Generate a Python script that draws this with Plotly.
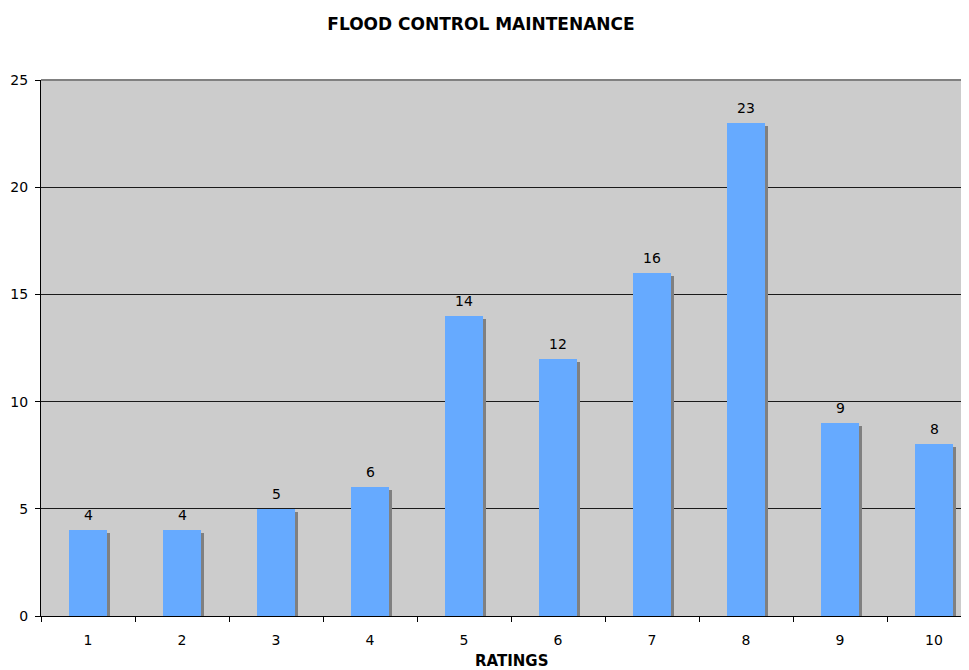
import plotly.graph_objects as go

ratings = ["1", "2", "3", "4", "5", "6", "7", "8", "9", "10"]
counts = [4, 4, 5, 6, 14, 12, 16, 23, 9, 8]
y_ticks = [0, 5, 10, 15, 20, 25]

BAR_W = 0.404
SHADOW_DX = 3 / 94.0      # shadow shift in category units (~3px)
SHADOW_DY = 3 / 21.44     # shadow drop in value units (~3px)
FONT = "DejaVu Sans, Verdana, sans-serif"

fig = go.Figure()
fig.add_trace(go.Bar(
    x=ratings, y=[v - SHADOW_DY for v in counts],
    width=BAR_W, offset=-BAR_W / 2 + SHADOW_DX,
    marker=dict(color="#808080", line=dict(width=0)),
    hoverinfo="skip", showlegend=False,
))
fig.add_trace(go.Bar(
    x=ratings, y=counts,
    width=BAR_W, offset=-BAR_W / 2,
    marker=dict(color="#66AAFF", line=dict(width=0)),
    showlegend=False,
))

annotations = [
    dict(x=i, y=v, xref="x", yref="y", text=str(v), showarrow=False,
         yanchor="bottom", yshift=5, font=dict(family=FONT, size=14, color="#000000"))
    for i, v in enumerate(counts)
]
annotations.append(dict(
    x=0.5065, y=-(661 - 616) / 536, xref="paper", yref="paper",
    text="<b>RATINGS</b>", showarrow=False, xanchor="center", yanchor="middle",
    font=dict(family=FONT, size=15, color="#000000"),
))

fig.update_layout(
    width=961, height=662,
    margin=dict(l=33, r=0, t=72, b=54),
    paper_bgcolor="#FFFFFF", plot_bgcolor="#CCCCCC",
    barmode="overlay", bargap=0,
    font=dict(family=FONT, size=14, color="#000000"),
    title=dict(text="<b>FLOOD CONTROL MAINTENANCE</b>", x=473 / 961, xanchor="center",
               y=1 - 16 / 662, yanchor="middle", yref="container",
               font=dict(family=FONT, size=17, color="#000000")),
    xaxis=dict(
        type="category", range=[-0.5, 9.372],
        tickson="boundaries", ticks="outside", ticklen=5, tickcolor="#000000",
        showline=True, linecolor="#000000", linewidth=1,
        showgrid=False, zeroline=False,
        tickfont=dict(size=14), ticklabelstandoff=11,
    ),
    yaxis=dict(
        range=[0, 25], tickvals=y_ticks,
        ticks="outside", ticklen=5, tickcolor="#000000",
        showline=True, linecolor="#000000", linewidth=1,
        showgrid=True, gridcolor="#1a1a1a", gridwidth=1,
        zeroline=False, tickfont=dict(size=14), ticklabelstandoff=4,
    ),
    annotations=annotations,
    shapes=[dict(type="line", xref="paper", yref="paper", x0=0, x1=1, y0=1, y1=1,
                 line=dict(color="#808080", width=2))],
)

fig.write_html("out.html")
